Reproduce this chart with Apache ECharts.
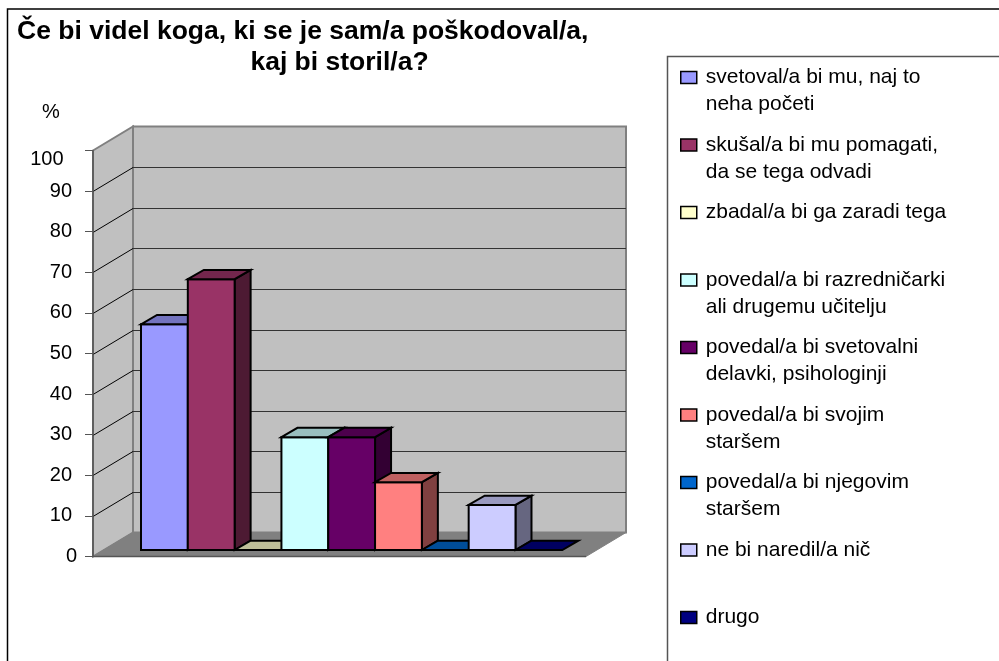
<!DOCTYPE html>
<html>
<head>
<meta charset="utf-8">
<style>
  html, body { margin: 0; padding: 0; background: #fff; }
  #view1 { width: 999px; height: 661px; }
</style>
<script src="https://cdn.jsdelivr.net/npm/echarts@6/dist/echarts.min.js"></script>
</head>
<body>
<div id="view1"></div>
<script>
var categories = [
  "svetoval/a bi mu, naj to\nneha početi",
  "skušal/a bi mu pomagati,\nda se tega odvadi",
  "zbadal/a bi ga zaradi tega\n ",
  "povedal/a bi razredničarki\nali drugemu učitelju",
  "povedal/a bi svetovalni\ndelavki, psihologinji",
  "povedal/a bi svojim\nstaršem",
  "povedal/a bi njegovim\nstaršem",
  "ne bi naredil/a nič\n ",
  "drugo\n "
];
var values = [55.6, 66.7, 0, 27.8, 27.8, 16.7, 0, 11.1, 0];
var colors = ["#9999ff", "#993366", "#ffffcc", "#ccffff", "#660066", "#ff8080", "#0066cc", "#ccccff", "#000080"];
var yTicks = [0, 10, 20, 30, 40, 50, 60, 70, 80, 90, 100];

var FONT = '"Liberation Sans", Arial, sans-serif';
// 3d look: how far the back wall and the bars are pushed
var WALL_DX = 40, WALL_DY = -24;
var BAR_DX = 16, BAR_DY = -9.3, BAR_LIFT = -6.5;
var GRID_LEFT = 141, GRID_WIDTH = 421.3, GRID_TOP = 150.5, GRID_HEIGHT = 406;
var AXIS_OFFSET = 48, FLOOR_RIGHT = 23.7;

function shade(hex, k) {
  var n = parseInt(hex.slice(1), 16);
  var r = Math.round((n >> 16) * k), g = Math.round(((n >> 8) & 255) * k), b = Math.round((n & 255) * k);
  return "rgb(" + r + "," + g + "," + b + ")";
}

function poly(points, fill, stroke, width) {
  return {
    type: "polygon",
    shape: { points: points },
    style: { fill: fill, stroke: stroke, lineWidth: width, lineJoin: "miter" }
  };
}

function seg(x1, y1, x2, y2, color, width) {
  return {
    type: "line",
    shape: { x1: x1, y1: y1, x2: x2, y2: y2 },
    style: { stroke: color, lineWidth: width }
  };
}

// walls and floor
function renderWalls(params, api) {
  var x0 = GRID_LEFT - AXIS_OFFSET;
  var x1 = GRID_LEFT + GRID_WIDTH + FLOOR_RIGHT;
  var bx0 = x0 + WALL_DX, bx1 = x1 + WALL_DX;
  var y0 = api.coord([0, 0])[1], yTop = api.coord([0, 100])[1];
  var kids = [
    poly([[bx0, yTop + WALL_DY], [bx1, yTop + WALL_DY], [bx1, y0 + WALL_DY], [bx0, y0 + WALL_DY]], "#c0c0c0", "#808080", 2),
    poly([[x0, yTop], [bx0, yTop + WALL_DY], [bx0, y0 + WALL_DY], [x0, y0]], "#c0c0c0", "#808080", 2),
    poly([[x0, y0], [bx0, y0 + WALL_DY], [bx1, y0 + WALL_DY], [x1, y0]], "#808080", "#808080", 1)
  ];
  yTicks.slice(1, -1).forEach(function (t) {
    var y = Math.round(api.coord([0, t])[1]) + 0.5;
    kids.push(seg(x0, y, bx0, y + WALL_DY, "#000", 1));
    kids.push(seg(bx0, y + WALL_DY, bx1, y + WALL_DY, "#333", 1));
  });
  kids.push(seg(x0, y0, x1, y0, "#555", 1.5));
  return { type: "group", children: kids };
}

function renderBar(params, api) {
  var top = api.coord([api.value(0), api.value(1)]);
  var base = api.coord([api.value(0), 0]);
  var w = api.size([1, 0])[0];
  var l = top[0] - w / 2, r = top[0] + w / 2;
  var yb = base[1] + BAR_LIFT, yt = top[1] + BAR_LIFT;
  var c = colors[api.value(0)];
  var kids = [];
  if (yb - yt > 0.5) {
    kids.push(poly([[r, yb], [r + BAR_DX, yb + BAR_DY], [r + BAR_DX, yt + BAR_DY], [r, yt]], shade(c, 0.5), "#000", 2));
    kids.push(poly([[l, yt], [r, yt], [r, yb], [l, yb]], c, "#000", 2));
  }
  kids.push(poly([[l, yt], [l + BAR_DX, yt + BAR_DY], [r + BAR_DX, yt + BAR_DY], [r, yt]], shade(c, 0.75), "#000", 2));
  return { type: "group", children: kids };
}

var series = [{
  name: "walls",
  type: "custom",
  silent: true,
  z: 1,
  renderItem: renderWalls,
  data: [[0, 0]]
}];
categories.forEach(function (name, i) {
  series.push({
    name: name,
    type: "custom",
    z: 2 + i,
    renderItem: renderBar,
    itemStyle: { color: colors[i] },
    encode: { x: 0, y: 1 },
    data: [[i, values[i]]]
  });
});

var option = {
  backgroundColor: "#fff",
  animation: false,
  title: [
    {
      text: "Če bi videl koga, ki se je sam/a poškodoval/a,",
      left: 12, top: 13,
      textStyle: { fontFamily: FONT, fontSize: 26.5, fontWeight: "bold", color: "#000" }
    },
    {
      text: "kaj bi storil/a?",
      left: 334.5, top: 44, textAlign: "center",
      textStyle: { fontFamily: FONT, fontSize: 26.5, fontWeight: "bold", color: "#000" }
    },
    {
      text: "%",
      left: 37, top: 97,
      textStyle: { fontFamily: FONT, fontSize: 20, fontWeight: "normal", color: "#000" }
    }
  ],
  legend: {
    orient: "vertical",
    left: 680,
    top: 40,
    height: 900,
    padding: 0,
    itemWidth: 16,
    itemHeight: 12,
    itemGap: -7.5,
    icon: "rect",
    selectedMode: false,
    data: categories,
    itemStyle: { borderColor: "#000", borderWidth: 1.5 },
    // first line has to sit level with the swatch, so a blank line goes on top
    formatter: function (name) {
      return name.split("\n").reduce(function (s, line) {
        return s + "\n{t|" + line + "}";
      }, "{t| }");
    },
    textStyle: {
      rich: { t: { fontFamily: FONT, fontSize: 21, color: "#000", lineHeight: 27, padding: [0, 0, 0, 4] } }
    }
  },
  grid: { left: GRID_LEFT, width: GRID_WIDTH, top: GRID_TOP, height: GRID_HEIGHT },
  xAxis: {
    type: "category",
    data: categories,
    show: false
  },
  yAxis: {
    type: "value",
    min: 0,
    max: 100,
    interval: 10,
    offset: AXIS_OFFSET,
    z: 5,
    splitLine: { show: false },
    axisLine: { show: true, lineStyle: { color: "#555", width: 1.5 } },
    axisTick: { show: true, length: 8, lineStyle: { color: "#555", width: 1 } },
    axisLabel: {
      margin: 16,
      formatter: function (v) {
        return v === 100 ? "{d3|100}" : (v === 0 ? "{d1|0}" : "{d2|" + v + "}");
      },
      rich: {
        d1: { fontFamily: FONT, fontSize: 20, color: "#000" },
        d2: { fontFamily: FONT, fontSize: 20, color: "#000", padding: [0, 5, 0, 0] },
        d3: { fontFamily: FONT, fontSize: 20, color: "#000", padding: [18, 13.5, 0, 0] }
      }
    }
  },
  series: series,
  graphic: [
    // outer frame of the chart, the legend box
    { type: "rect", silent: true, z: -1, shape: { x: 7.5, y: 9, width: 1000, height: 700 }, style: { fill: "#fff", stroke: "#000", lineWidth: 1.5 } },
    { type: "rect", silent: true, z: -1, shape: { x: 667.5, y: 56.5, width: 400, height: 700 }, style: { fill: "#fff", stroke: "#555", lineWidth: 1.5 } }
  ]
};

echarts.init(document.getElementById("view1")).setOption(option);
</script>
</body>
</html>
